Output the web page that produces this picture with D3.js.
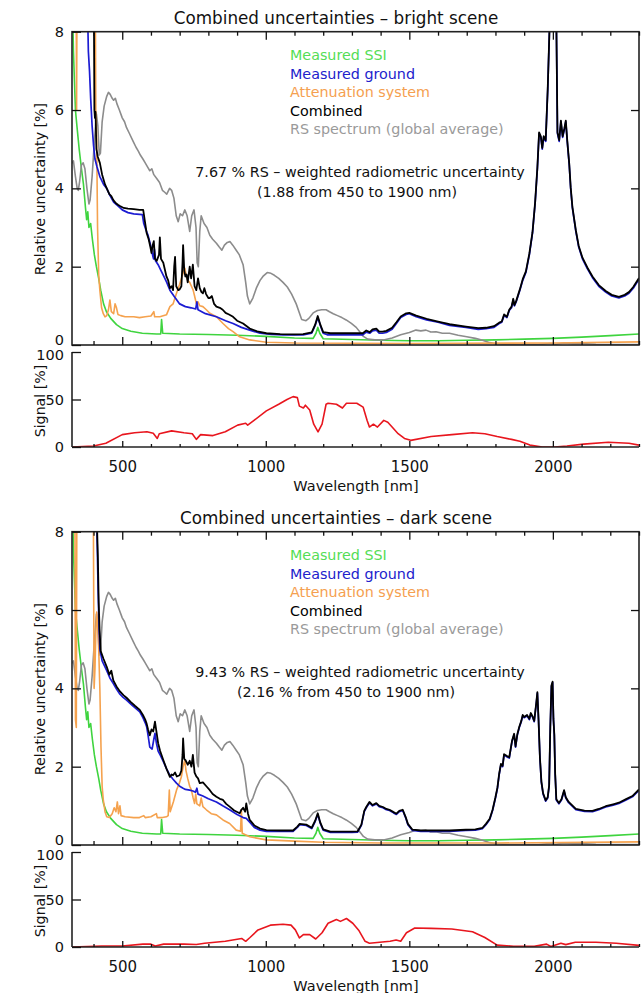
<!DOCTYPE html>
<html><head><meta charset="utf-8">
<script src="https://cdn.jsdelivr.net/npm/d3@7"></script>
<style>
body{margin:0;background:#fff;}
svg{display:block;}
text{font-family:"DejaVu Sans",sans-serif;}
</style>
</head><body>
<svg id="c" width="643" height="993"></svg>
<script>
// ---------------- DATA ----------------
const WL_DOMAIN = [325, 2300];
const xTickLabels = [500, 1000, 1500, 2000];
const yTicksUnc = [0, 2, 4, 6, 8];
const yTicksSig = [0, 50, 100];
const titles = ["Combined uncertainties \u2013 bright scene", "Combined uncertainties \u2013 dark scene"];
const legendLabels = ["Measured SSI", "Measured ground", "Attenuation system", "Combined", "RS spectrum (global average)"];
const annotBright = ["7.67 % RS \u2013 weighted radiometric uncertainty", "(1.88  from 450 to 1900 nm)"];
const annotDark = ["9.43 % RS \u2013 weighted radiometric uncertainty", "(2.16 % from 450 to 1900 nm)"];

// Measured SSI (same in both scenes)
const ssi = [[325,9.5],[330,7.5],[337,6.0],[342,5.6],[350,5.0],[358,4.5],[365,4.1],[372,3.5],[376,3.2],[380,3.4],[384,3.0],[390,3.1],[396,2.7],[403,2.3],[410,2.0],[418,1.7],[425,1.4],[435,1.05],[445,0.85],[460,0.68],[480,0.52],[500,0.42],[530,0.35],[570,0.3],[620,0.28],[634,0.28],[637,0.65],[641,0.3],[700,0.28],[800,0.27],[900,0.25],[1000,0.22],[1100,0.18],[1165,0.17],[1175,0.3],[1181,0.45],[1188,0.3],[1200,0.16],[1300,0.14],[1400,0.12],[1500,0.11],[1600,0.11],[1700,0.12],[1800,0.13],[1900,0.15],[2000,0.17],[2100,0.2],[2200,0.24],[2300,0.28]];

// RS spectrum (global average, same in both scenes)
const rsSpectrum = [[325,4.64],[330,4.7],[337,4.3],[343,4.0],[347,3.95],[352,4.2],[358,4.6],[364,4.65],[370,4.5],[377,4.0],[384,3.6],[388,3.7],[395,4.3],[403,5.2],[410,5.9],[415,5.6],[420,4.85],[424,4.9],[430,5.7],[437,6.1],[446,6.35],[452,6.45],[458,6.4],[465,6.3],[470,6.25],[476,6.3],[482,6.15],[490,6.0],[500,5.8],[508,5.7],[515,5.55],[525,5.4],[538,5.2],[548,5.05],[556,4.95],[563,4.85],[572,4.75],[580,4.65],[588,4.55],[596,4.45],[603,4.5],[610,4.35],[620,4.25],[630,4.15],[640,3.95],[648,3.9],[655,3.85],[665,4.0],[672,3.95],[680,3.75],[688,3.3],[695,3.15],[702,3.35],[710,3.3],[718,3.45],[726,3.3],[735,2.9],[742,3.3],[750,3.45],[757,3.0],[761,2.1],[765,2.0],[770,2.9],[775,3.3],[785,3.1],[795,3.0],[805,2.8],[815,2.7],[828,2.6],[838,2.5],[847,2.42],[856,2.55],[866,2.62],[875,2.64],[885,2.55],[897,2.42],[908,2.3],[921,2.05],[930,1.6],[936,1.25],[944,1.05],[955,1.2],[967,1.45],[980,1.65],[990,1.75],[1005,1.85],[1018,1.83],[1030,1.78],[1045,1.7],[1060,1.6],[1075,1.48],[1090,1.3],[1106,1.05],[1118,0.8],[1125,0.65],[1140,0.62],[1150,0.68],[1165,0.82],[1180,0.88],[1195,0.9],[1210,0.9],[1222,0.85],[1235,0.8],[1250,0.75],[1265,0.7],[1280,0.64],[1298,0.55],[1315,0.45],[1328,0.33],[1340,0.22],[1355,0.15],[1380,0.13],[1410,0.13],[1440,0.18],[1470,0.26],[1500,0.32],[1523,0.38],[1540,0.36],[1558,0.38],[1575,0.33],[1593,0.34],[1615,0.3],[1640,0.3],[1670,0.25],[1700,0.21],[1730,0.17],[1755,0.12],[1780,0.06],[1800,0.03],[1850,0.01],[1950,0.01],[1990,0.04],[2010,0.02],[2040,0.05],[2070,0.03],[2100,0.04],[2150,0.02],[2300,0.01]];

// Bright scene
const brightGround = [[325,12],[375,12],[378,9],[382,7.5],[386,7.0],[390,6.3],[395,5.6],[400,5.1],[405,4.75],[412,4.55],[422,4.3],[435,4.1],[446,4.0],[457,3.82],[470,3.65],[485,3.55],[500,3.45],[520,3.38],[540,3.35],[570,3.33],[575,3.1],[582,2.95],[590,2.8],[597,2.6],[604,2.35],[609,2.2],[612,2.45],[616,2.15],[625,2.05],[635,1.9],[645,1.75],[655,1.6],[666,1.4],[680,1.25],[700,1.05],[720,0.98],[740,0.95],[756,0.92],[760,1.1],[764,0.9],[790,0.8],[828,0.72],[860,0.62],[886,0.55],[915,0.45],[944,0.38],[980,0.3],[1020,0.27],[1060,0.26],[1130,0.26],[1160,0.3],[1172,0.5],[1181,0.7],[1190,0.5],[1200,0.3],[1214,0.26],[1260,0.26],[1300,0.26],[1338,0.26],[1350,0.33],[1362,0.3],[1372,0.36],[1385,0.38],[1395,0.3],[1407,0.3],[1420,0.32],[1440,0.4],[1455,0.55],[1470,0.7],[1489,0.78],[1500,0.8],[1524,0.72],[1560,0.64],[1600,0.58],[1640,0.5],[1697,0.45],[1740,0.4],[1767,0.42],[1795,0.45],[1813,0.55],[1822,0.58],[1830,0.75],[1840,0.7],[1848,0.88],[1856,0.95],[1862,1.15],[1866,1.0],[1872,1.1],[1885,1.4],[1895,1.65],[1906,1.85],[1918,2.3],[1929,2.85],[1938,3.6],[1946,4.5],[1952,5.4],[1958,5.3],[1963,5.0],[1968,5.3],[1975,5.2],[1982,6.5],[1990,8.5],[1996,10],[2006,10],[2012,8.3],[2016,5.4],[2022,5.2],[2028,5.7],[2034,5.3],[2040,5.5],[2045,5.7],[2050,5.2],[2057,4.6],[2062,4.0],[2068,3.5],[2080,2.9],[2090,2.5],[2103,2.2],[2120,1.95],[2138,1.72],[2160,1.5],[2184,1.35],[2205,1.25],[2230,1.2],[2250,1.25],[2265,1.32],[2280,1.45],[2300,1.68]];

const brightAtten = [[325,12],[338,12],[341,6.0],[344,12],[404,12],[408,6.0],[411,5.2],[414,3.0],[418,1.8],[422,1.4],[428,0.95],[434,0.8],[440,0.72],[446,0.75],[452,0.9],[457,1.15],[462,0.85],[470,0.8],[475,1.05],[480,0.95],[485,0.78],[495,0.75],[510,0.72],[540,0.72],[560,0.7],[580,0.72],[600,0.74],[610,0.85],[613,0.72],[631,0.72],[654,0.77],[666,0.98],[677,1.05],[689,1.32],[700,1.55],[706,1.7],[712,1.83],[718,1.96],[722,1.8],[728,1.65],[735,1.6],[741,1.5],[747,1.4],[752,1.25],[758,1.06],[764,1.1],[770,1.0],[781,0.98],[793,0.9],[805,0.81],[828,0.72],[851,0.55],[870,0.42],[886,0.34],[909,0.21],[944,0.13],[1002,0.07],[1100,0.05],[1500,0.04],[2000,0.05],[2300,0.08]];

const brightCombined = [[325,12],[398,12],[401,9],[403,6.0],[405,5.8],[407,5.95],[410,5.0],[415,4.8],[422,4.65],[430,4.35],[440,4.1],[446,4.0],[455,3.85],[462,3.8],[469,3.7],[478,3.62],[485,3.58],[492,3.55],[505,3.5],[520,3.48],[540,3.47],[560,3.45],[573,3.45],[578,3.2],[585,2.86],[592,2.7],[598,2.5],[602,2.35],[606,2.55],[610,2.65],[614,2.2],[620,2.15],[628,2.3],[631,2.75],[635,2.2],[643,2.1],[654,1.75],[660,1.65],[666,1.45],[672,1.5],[677,1.4],[681,2.0],[684,2.25],[688,1.5],[695,1.4],[700,1.42],[706,1.5],[710,2.1],[712,2.55],[716,1.9],[720,1.75],[724,1.8],[728,1.6],[735,2.0],[740,1.7],[746,2.05],[752,1.5],[758,1.4],[764,1.7],[770,1.45],[776,1.35],[781,1.32],[786,1.45],[792,1.3],[800,1.2],[805,1.2],[812,1.25],[820,1.05],[828,0.98],[840,0.95],[850,0.9],[860,0.82],[872,0.78],[886,0.72],[900,0.62],[921,0.55],[944,0.42],[970,0.35],[1002,0.3],[1050,0.28],[1100,0.27],[1130,0.28],[1160,0.32],[1172,0.52],[1181,0.74],[1190,0.52],[1200,0.33],[1225,0.3],[1260,0.3],[1300,0.3],[1338,0.3],[1350,0.37],[1362,0.33],[1372,0.4],[1385,0.42],[1395,0.34],[1407,0.34],[1420,0.36],[1440,0.44],[1455,0.58],[1470,0.73],[1489,0.81],[1500,0.82],[1524,0.75],[1560,0.67],[1600,0.6],[1640,0.53],[1697,0.47],[1740,0.43],[1767,0.44],[1795,0.48],[1813,0.57],[1822,0.6],[1830,0.78],[1840,0.72],[1848,0.9],[1856,0.98],[1862,1.18],[1866,1.02],[1872,1.12],[1885,1.42],[1895,1.68],[1906,1.88],[1918,2.33],[1929,2.88],[1938,3.63],[1946,4.53],[1952,5.43],[1958,5.33],[1963,5.03],[1968,5.33],[1975,5.23],[1982,6.53],[1990,8.5],[1996,10],[2006,10],[2012,8.3],[2016,5.43],[2022,5.23],[2028,5.73],[2034,5.33],[2040,5.53],[2045,5.73],[2050,5.23],[2057,4.63],[2062,4.03],[2068,3.53],[2080,2.93],[2090,2.53],[2103,2.23],[2120,1.98],[2138,1.75],[2160,1.53],[2184,1.38],[2205,1.28],[2230,1.23],[2250,1.28],[2265,1.35],[2280,1.48],[2300,1.71]];

const brightSignal = [[325,0],[400,1],[443,4],[500,13],[543,15],[586,16],[608,14.5],[622,9],[629,14],[672,17],[715,15],[744,14],[758,8],[773,13],[816,12],[859,16],[902,23],[930,25],[937,23],[959,28],[1002,38],[1045,45],[1074,50],[1095,53],[1110,52],[1117,43],[1131,41],[1138,44],[1153,39],[1167,24],[1182,16],[1196,24],[1210,45],[1217,46],[1246,45],[1267,41],[1281,46],[1317,46],[1339,42],[1353,28],[1361,21],[1375,24],[1389,21],[1411,28],[1425,26],[1440,21],[1461,14],[1483,9],[1505,7],[1576,11],[1648,13],[1720,15],[1763,14],[1806,11],[1856,8],[1885,6],[1920,2],[1963,0],[2006,0],[2049,1],[2107,3],[2193,5],[2265,4],[2300,2]];

// Dark scene
const darkGround = [[325,12],[405,12],[409,9],[413,7.6],[416,6.5],[419,5.6],[422,5.0],[430,4.7],[446,4.45],[458,4.25],[469,4.12],[480,3.98],[492,3.85],[503,3.77],[515,3.7],[530,3.6],[545,3.5],[561,3.4],[572,3.25],[580,3.12],[585,3.02],[590,2.8],[596,2.5],[604,2.45],[610,2.7],[614,2.85],[619,2.6],[625,2.4],[632,2.3],[642,2.15],[654,1.95],[666,1.78],[677,1.68],[689,1.58],[700,1.5],[712,1.45],[720,1.42],[735,1.4],[746,1.38],[755,1.35],[760,1.45],[764,1.3],[781,1.25],[800,1.18],[828,1.1],[850,1.0],[874,0.9],[900,0.78],[921,0.7],[932,0.68],[944,0.58],[960,0.45],[980,0.38],[1002,0.35],[1050,0.35],[1095,0.35],[1110,0.45],[1118,0.52],[1141,0.5],[1160,0.42],[1172,0.6],[1181,0.78],[1190,0.55],[1200,0.38],[1225,0.32],[1300,0.32],[1320,0.33],[1333,0.5],[1343,0.85],[1350,0.95],[1361,1.08],[1372,1.0],[1385,1.05],[1395,0.98],[1408,0.95],[1420,0.9],[1431,0.88],[1445,0.82],[1455,0.78],[1465,0.85],[1477,0.88],[1487,0.7],[1495,0.52],[1511,0.37],[1540,0.35],[1580,0.35],[1640,0.35],[1697,0.37],[1730,0.38],[1755,0.42],[1767,0.52],[1780,0.65],[1790,0.88],[1800,1.2],[1807,1.45],[1813,1.8],[1819,2.05],[1825,2.0],[1830,2.3],[1840,2.25],[1848,2.22],[1858,2.65],[1865,2.82],[1870,2.5],[1876,2.8],[1883,3.0],[1890,3.15],[1895,3.3],[1900,3.25],[1910,3.3],[1918,3.2],[1923,3.35],[1930,3.25],[1935,3.15],[1942,3.6],[1946,3.88],[1950,3.2],[1955,2.2],[1960,1.6],[1966,1.3],[1975,1.12],[1982,1.2],[1987,1.5],[1991,3.0],[1995,4.05],[1999,4.15],[2002,3.2],[2005,2.8],[2008,1.8],[2012,1.15],[2021,1.05],[2030,1.15],[2039,1.38],[2045,1.2],[2055,1.08],[2080,0.9],[2110,0.86],[2138,0.85],[2160,0.9],[2184,0.97],[2210,1.02],[2230,1.06],[2255,1.15],[2277,1.23],[2300,1.4]];

const darkAtten = [[325,12],[334,12],[337,3.2],[340,3.0],[343,12],[398,12],[400,7.3],[402,4.0],[405,4.5],[408,5.4],[411,5.95],[414,5.7],[418,5.0],[422,4.0],[426,2.5],[430,1.5],[434,1.15],[440,0.85],[446,0.72],[455,0.7],[465,0.8],[472,0.95],[478,0.85],[483,1.1],[487,0.8],[492,1.0],[496,0.75],[510,0.72],[540,0.7],[560,0.7],[575,0.75],[580,0.7],[600,0.72],[619,0.8],[622,0.7],[640,0.7],[654,0.72],[660,0.75],[664,1.4],[667,0.85],[678,1.1],[689,1.4],[700,1.6],[706,1.74],[712,2.0],[718,2.17],[722,1.9],[728,1.7],[735,1.5],[741,1.4],[747,1.2],[752,1.06],[756,1.3],[760,1.05],[770,1.0],[775,1.2],[781,0.98],[793,0.9],[810,0.8],[828,0.77],[851,0.64],[874,0.55],[897,0.38],[912,0.35],[915,0.9],[918,0.3],[944,0.21],[1002,0.13],[1100,0.1],[1200,0.07],[1400,0.05],[1800,0.05],[2300,0.08]];

const darkCombined = [[325,12],[405,12],[409,9],[412,8.2],[415,7.4],[418,6.2],[421,5.5],[425,4.95],[435,4.75],[446,4.55],[455,4.35],[462,4.45],[469,4.2],[480,4.05],[492,3.92],[505,3.82],[515,3.76],[530,3.65],[545,3.55],[561,3.45],[572,3.32],[580,3.2],[585,3.1],[590,2.95],[596,2.8],[602,2.95],[608,2.9],[614,3.15],[619,2.9],[625,2.6],[632,2.4],[643,2.17],[654,1.95],[666,1.74],[672,1.8],[677,1.78],[684,1.85],[690,1.75],[700,1.78],[706,1.9],[710,2.3],[712,2.72],[716,2.2],[720,2.17],[728,2.05],[735,2.15],[741,2.0],[746,2.3],[752,1.85],[758,1.75],[764,1.7],[770,1.58],[781,1.6],[793,1.5],[805,1.4],[815,1.3],[828,1.23],[840,1.18],[851,1.15],[862,1.05],[874,0.98],[890,0.88],[909,0.81],[915,0.9],[921,0.95],[928,0.85],[932,1.06],[938,0.8],[944,0.64],[960,0.5],[980,0.42],[1002,0.38],[1050,0.37],[1095,0.37],[1110,0.47],[1118,0.54],[1141,0.52],[1160,0.44],[1172,0.62],[1181,0.81],[1190,0.57],[1200,0.4],[1225,0.34],[1300,0.34],[1320,0.35],[1333,0.52],[1343,0.87],[1350,0.97],[1361,1.1],[1372,1.02],[1385,1.07],[1395,1.0],[1408,0.97],[1420,0.92],[1431,0.9],[1445,0.84],[1455,0.8],[1465,0.87],[1477,0.9],[1487,0.72],[1495,0.54],[1511,0.39],[1540,0.37],[1580,0.37],[1640,0.37],[1697,0.39],[1730,0.4],[1755,0.44],[1767,0.54],[1780,0.67],[1790,0.9],[1800,1.22],[1807,1.47],[1813,1.82],[1819,2.07],[1825,2.02],[1830,2.32],[1840,2.27],[1848,2.24],[1858,2.67],[1865,2.84],[1870,2.52],[1876,2.82],[1883,3.02],[1890,3.17],[1895,3.32],[1900,3.27],[1910,3.32],[1918,3.22],[1923,3.37],[1930,3.27],[1935,3.17],[1942,3.62],[1946,3.9],[1950,3.22],[1955,2.22],[1960,1.62],[1966,1.32],[1975,1.14],[1982,1.22],[1987,1.52],[1991,3.02],[1995,4.07],[1999,4.17],[2002,3.22],[2005,2.82],[2008,1.82],[2012,1.17],[2021,1.07],[2030,1.17],[2039,1.4],[2045,1.22],[2055,1.1],[2080,0.92],[2110,0.88],[2138,0.87],[2160,0.92],[2184,0.99],[2210,1.04],[2230,1.08],[2255,1.17],[2277,1.25],[2300,1.42]];

const darkSignal = [[325,0],[428,1],[500,1],[572,3],[600,3],[615,1],[644,3],[715,3],[758,2.7],[787,4],[859,6],[916,9],[930,6],[945,10],[973,18],[1016,23],[1060,24],[1088,23],[1103,18],[1117,9.5],[1131,13],[1153,13],[1174,8.4],[1196,15],[1217,25],[1246,29],[1260,27],[1281,30],[1303,25],[1325,17],[1346,6],[1361,4],[1433,6],[1454,7.4],[1470,6],[1490,15],[1519,20],[1576,19.6],[1648,19],[1720,16],[1763,10],[1806,2],[1863,0.7],[1935,0.7],[1978,3],[1993,0.5],[2028,4],[2045,2.5],[2078,5],[2150,5],[2221,4],[2300,1.7]];

// ---------------- DRAWING ----------------
const COL = {ssi:"#3fd43f", ground:"#1c1cd2", atten:"#f5a24e", comb:"#000000", rs:"#8c8c8c", sig:"#e8161e"};
const legendColors = ["#55dd55", "#2222cc", "#f5a050", "#000000", "#9a9a9a"];
const svg = d3.select("#c");
const X0 = 72, X1 = 639;
const x = d3.scaleLinear().domain(WL_DOMAIN).range([X0, X1]);
const minorVals = d3.range(400, 2301, 100).filter(v => v % 500 !== 0);
const fmt = d3.format("d");

function styleAxis(g, fs) {
  g.select(".domain").remove();
  g.selectAll("line").attr("stroke", "#111").attr("stroke-width", 1.3);
  g.selectAll("text").attr("font-size", fs || 15).attr("font-family", "DejaVu Sans, sans-serif").attr("fill", "#111");
}

function panel(off, idx, ground, atten, comb, signal, annot, annotX) {
  const yU = d3.scaleLinear().domain([0, 8]).range([345 + off, 31.7 + off]);
  const yS = d3.scaleLinear().domain([0, 100]).range([447 + off, 352 + off]);
  const cid = "clipU" + idx, sid = "clipS" + idx;
  const defs = svg.append("defs");
  defs.append("clipPath").attr("id", cid).append("rect")
    .attr("x", X0).attr("y", yU(8)).attr("width", X1 - X0).attr("height", yU(0) - yU(8));
  defs.append("clipPath").attr("id", sid).append("rect")
    .attr("x", X0).attr("y", yS(100) - 5).attr("width", X1 - X0).attr("height", yS(0) - yS(100) + 5);

  // title
  svg.append("text").attr("x", 336).attr("y", 24 + off).attr("text-anchor", "middle")
    .attr("font-size", 16.8).attr("fill", "#111").text(titles[idx]);

  // lines
  const lineU = d3.line().x(d => x(d[0])).y(d => yU(d[1]));
  const gl = svg.append("g").attr("clip-path", `url(#${cid})`).attr("fill", "none")
    .attr("stroke-linejoin", "round");
  gl.append("path").attr("d", lineU(ssi)).attr("stroke", COL.ssi).attr("stroke-width", 1.6);
  gl.append("path").attr("d", lineU(rsSpectrum)).attr("stroke", COL.rs).attr("stroke-width", 1.6);
  gl.append("path").attr("d", lineU(atten)).attr("stroke", COL.atten).attr("stroke-width", 1.6);
  gl.append("path").attr("d", lineU(ground)).attr("stroke", COL.ground).attr("stroke-width", 1.7);
  gl.append("path").attr("d", lineU(comb)).attr("stroke", COL.comb).attr("stroke-width", 1.8);

  // box
  svg.append("rect").attr("x", X0).attr("y", yU(8)).attr("width", X1 - X0).attr("height", yU(0) - yU(8))
    .attr("fill", "none").attr("stroke", "#222").attr("stroke-width", 1.6);

  // uncertainty axes
  const gyl = svg.append("g").attr("transform", `translate(${X0},0)`)
    .call(d3.axisLeft(yU).tickValues(yTicksUnc).tickSize(-9).tickPadding(8).tickSizeOuter(0))
    .call(g => styleAxis(g, 14.5));
  gyl.selectAll(".tick").filter(d => d === 0).select("text").attr("dy", "-0.05em");
  svg.append("g").attr("transform", `translate(${X1},0)`)
    .call(d3.axisRight(yU).tickValues(yTicksUnc.slice(1, 4)).tickSize(-8).tickFormat("").tickSizeOuter(0)).call(g => styleAxis(g));
  [[yU(0), d3.axisBottom], [yU(8), d3.axisTop]].forEach(([yy, ax]) => {
    svg.append("g").attr("transform", `translate(0,${yy})`)
      .call(ax(x).tickValues(xTickLabels).tickSize(-8).tickFormat("").tickSizeOuter(0)).call(g => styleAxis(g));
    svg.append("g").attr("transform", `translate(0,${yy})`)
      .call(ax(x).tickValues(minorVals).tickSize(-4).tickFormat("").tickSizeOuter(0)).call(g => styleAxis(g));
  });

  // y label
  svg.append("text").attr("transform", `translate(45,${189 + off}) rotate(-90)`).attr("text-anchor", "middle")
    .attr("font-size", 14.2).attr("fill", "#111").text("Relative uncertainty [%]");

  // legend
  legendLabels.forEach((t, i) => {
    svg.append("text").attr("x", 290).attr("y", 60 + off + i * 18.6).attr("font-size", 14.3)
      .attr("fill", legendColors[i]).text(t);
  });
  // annotation
  annot.forEach((t, i) => {
    svg.append("text").attr("x", annotX[i]).attr("y", 177 + off + i * 20).attr("text-anchor", "middle")
      .attr("font-size", 14.3).attr("fill", "#111").text(t);
  });

  // signal panel
  const lineS = d3.line().x(d => x(d[0])).y(d => yS(d[1]));
  svg.append("path").attr("clip-path", `url(#${sid})`).attr("d", lineS(signal)).attr("fill", "none")
    .attr("stroke", COL.sig).attr("stroke-width", 1.6).attr("stroke-linejoin", "round");
  svg.append("line").attr("x1", X0).attr("x2", X0).attr("y1", yS(100)).attr("y2", yS(0))
    .attr("stroke", "#222").attr("stroke-width", 1.6);
  svg.append("line").attr("x1", X0).attr("x2", X1).attr("y1", yS(0)).attr("y2", yS(0))
    .attr("stroke", "#222").attr("stroke-width", 1.6);
  const gys = svg.append("g").attr("transform", `translate(${X0},0)`)
    .call(d3.axisLeft(yS).tickValues(yTicksSig).tickSize(-9).tickPadding(8).tickSizeOuter(0))
    .call(g => styleAxis(g, 14.5));
  gys.selectAll(".tick").filter(d => d === 100).select("text").attr("dy", "0.55em");
  svg.append("g").attr("transform", `translate(0,${yS(0)})`)
    .call(d3.axisBottom(x).tickValues(xTickLabels).tickFormat(fmt).tickSize(-6).tickPadding(14).tickSizeOuter(0))
    .call(g => styleAxis(g, 15));
  svg.append("g").attr("transform", `translate(0,${yS(0)})`)
    .call(d3.axisBottom(x).tickValues(minorVals).tickSize(-3).tickFormat("").tickSizeOuter(0)).call(g => styleAxis(g));

  svg.append("text").attr("transform", `translate(45,${401 + off}) rotate(-90)`).attr("text-anchor", "middle")
    .attr("font-size", 14.2).attr("fill", "#111").text("Signal [%]");
  svg.append("text").attr("x", 356).attr("y", 491 + off).attr("text-anchor", "middle")
    .attr("font-size", 14.5).attr("fill", "#111").text("Wavelength [nm]");
}

panel(0, 0, brightGround, brightAtten, brightCombined, brightSignal, annotBright, [360, 357]);
panel(500, 1, darkGround, darkAtten, darkCombined, darkSignal, annotDark, [360, 346]);
</script>
</body></html>
